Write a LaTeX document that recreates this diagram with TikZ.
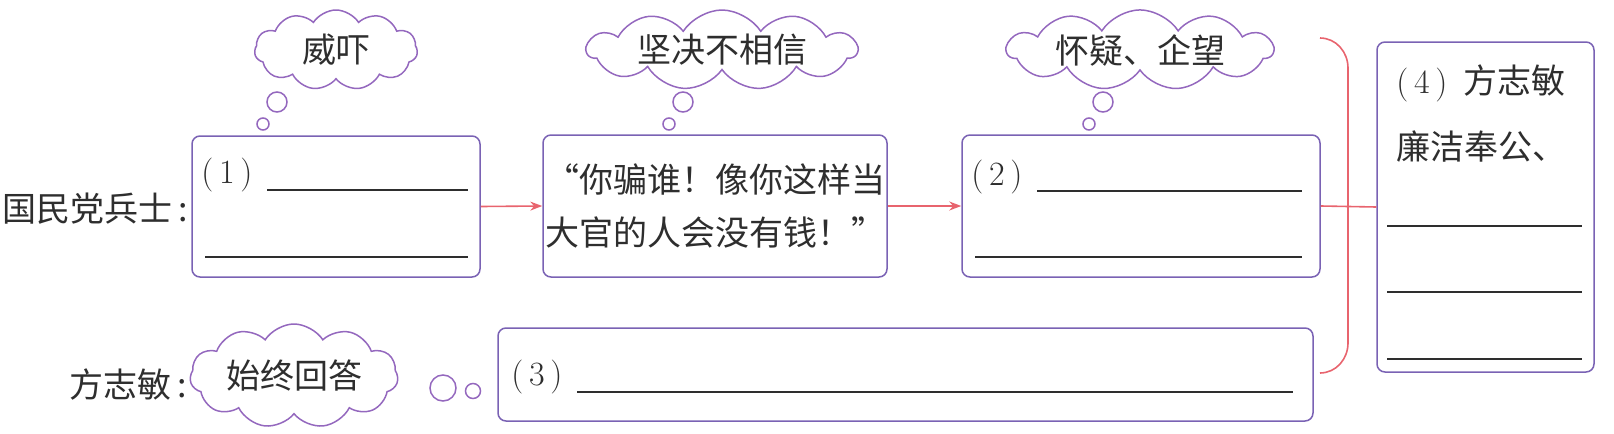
\documentclass[tikz,border=0pt]{standalone}
\usepackage{fontspec}
\newfontfamily\cjk{Noto Sans CJK SC}
\usepackage{tikz}
\usetikzlibrary{arrows.meta,calc,shapes.symbols}
\definecolor{boxline}{HTML}{7A62B4}
\definecolor{puffline}{HTML}{9468BE}
\definecolor{linkred}{HTML}{E8646E}
\definecolor{ink}{HTML}{2E2E2E}
\newcommand{\cnfont}{\cjk\fontsize{17}{24}\selectfont}
\newcommand{\cnbig}{\cjk\fontsize{17}{26.5}\selectfont}
\tikzset{
  panel/.style={draw=boxline, line width=0.75pt, rounded corners=4pt,
                inner sep=0pt, text=ink},
  thought/.style={cloud, cloud puffs=11, cloud puff arc=115,
                  cloud ignores aspect, draw=puffline, line width=0.75pt,
                  inner sep=0pt, font=\cnfont, text=ink},
  bubble/.style={circle, draw=puffline, line width=0.75pt, inner sep=0pt},
  ar/.style={-{Stealth[length=6pt,width=4.5pt]}, line width=0.8pt, draw=linkred},
  tie/.style={line width=0.8pt, draw=linkred},
  lbl/.style={font=\cnfont, text=ink, inner sep=0pt},
  num/.style={font=\rmfamily\fontsize{17}{24}\selectfont, text=ink, inner sep=0pt},
  blank/.style={line width=1pt, draw=ink},
}
\begin{document}
\begin{tikzpicture}[x=0.5pt, y=-0.5pt]
  % 坐标按原图像素取, y 轴向下
  \useasboundingbox (0,0) rectangle (1614,434);

  % --- 上排三个方框 ---
  \node[panel, minimum width=144pt, minimum height=70.5pt] (b1) at (336,206.5) {};
  \node[panel, minimum width=172pt, minimum height=71pt, align=left, font=\cnbig]
       (b2) at (715,206) {“你骗谁！像你这样当\\大官的人会没有钱！”};
  \node[panel, minimum width=179pt, minimum height=71pt] (b3) at (1141,206) {};

  % --- 右侧竖框与下排长框 ---
  \node[panel, minimum width=108.5pt, minimum height=165pt] (b4) at (1485.5,207) {};
  \node[panel, minimum width=407.5pt, minimum height=46.5pt] (b5) at (905.5,374.5) {};

  % --- 人物 ---
  \node[lbl, anchor=west] (who1) at (2,209) {国民党兵士\,:};
  \node[lbl, anchor=west] (who2) at (69,385) {方志敏\,:};

  % --- 框内文字和横线 ---
  \node[num, anchor=west] (n1) at (201,175) {(\,1\,)};
  \node[num, anchor=west] (n2) at (971,177) {(\,2\,)};
  \node[num, anchor=west] (n3) at (511,377) {(\,3\,)};
  \node[lbl, anchor=west] (n4) at (1396,83) {{\rmfamily(\,4\,)}\hspace{8pt}方志敏};
  \node[lbl, anchor=west] (n4b) at (1396,147) {廉洁奉公、};
  \draw[blank] (267,190) -- (468,190);
  \draw[blank] (205,257) -- (468,257);
  \draw[blank] (1037,191) -- (1302,191);
  \draw[blank] (975,257) -- (1302,257);
  \draw[blank] (577,392) -- (1293,392);
  \foreach \y in {226,292,359}
    \draw[blank] (1387,\y) -- (1582,\y);

  % --- 想法云朵 ---
  \foreach \c/\cx/\w/\t/\bx in {c1/336/163/威吓/277, c2/722/270/坚决不相信/683,
                                c3/1140/266/怀疑、企望/1103}{
    \node[thought, minimum width=\w*0.5pt, minimum height=40pt] (\c) at (\cx,50) {\t};
    \node[bubble, minimum size=10pt] (\c-a) at (\bx,102) {};
    \node[bubble, minimum size=6pt] (\c-b) at (\bx-14,124) {};
  }
  \node[thought, minimum width=104pt, minimum height=52pt] (c4) at (294,376) {始终回答};
  \node[bubble, minimum size=13pt] (c4-a) at (443,388) {};
  \node[bubble, minimum size=7.5pt] (c4-b) at (473,391) {};

  % --- 箭头和括线 ---
  \draw[ar] (b1.east) -- (b2.west);
  \draw[ar] (b2.east) -- (b3.west);
  \draw[tie] (b3.east) -- (b4.west);
  \draw[tie] (1320,38) to[out=0,in=90] (1348,68) -- (1348,343)
             to[out=-90,in=0] (1320,373);
\end{tikzpicture}
\end{document}
